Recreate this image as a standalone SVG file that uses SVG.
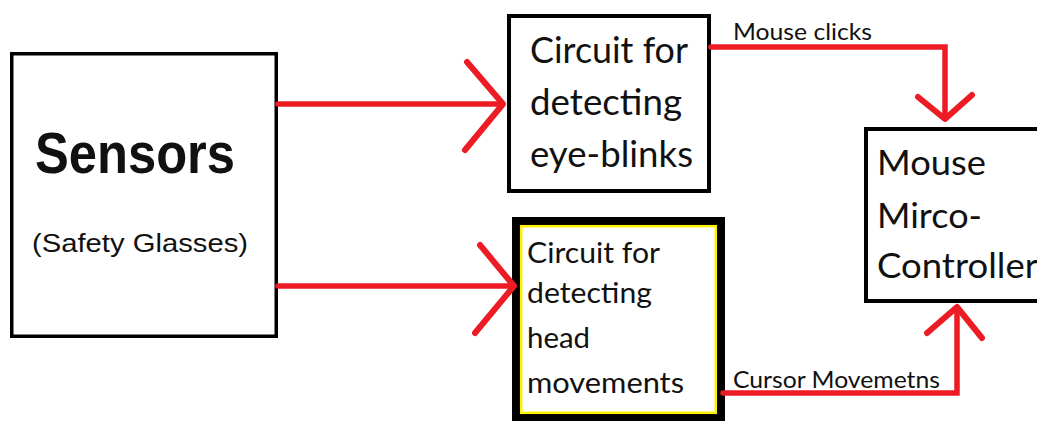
<svg xmlns="http://www.w3.org/2000/svg" width="1037" height="421" viewBox="0 0 1037 421">
<style>
.box{fill:#fff;stroke:#000;}
.wire{fill:none;stroke:#ED1C24;stroke-width:5.5;stroke-linecap:round;stroke-linejoin:miter;}
.head{fill:none;stroke:#ED1C24;stroke-width:6;stroke-linecap:round;stroke-linejoin:round;}
.ar{font-family:"Liberation Sans",Arial,sans-serif;fill:#111;}
.cb{font-family:Lato,"Open Sans",sans-serif;fill:#111;}
</style>
<rect width="1037" height="421" fill="#fff"/>
<g id="sensors">
<rect class="box" x="11.75" y="53.75" width="264.5" height="282.5" stroke-width="3.5"/>
<text class="ar" x="35" y="173" font-size="57" font-weight="bold" textLength="200" lengthAdjust="spacingAndGlyphs">Sensors</text>
<text class="ar" x="32" y="252" font-size="26.5" textLength="216" lengthAdjust="spacingAndGlyphs">(Safety Glasses)</text>
</g>
<g id="eye-blinks">
<rect class="box" x="509" y="16" width="200" height="175" stroke-width="4"/>
<text class="cb" x="530" y="63" font-size="36" textLength="158" lengthAdjust="spacingAndGlyphs">Circuit for</text>
<text class="cb" x="530" y="115" font-size="36" textLength="152" lengthAdjust="spacingAndGlyphs">detecting</text>
<text class="cb" x="530" y="167" font-size="36" textLength="163" lengthAdjust="spacingAndGlyphs">eye-blinks</text>
</g>
<g id="head-movements">
<rect class="box" x="516" y="221" width="205" height="197" stroke-width="8"/>
<rect x="521.2" y="226.2" width="194.6" height="186.6" fill="none" stroke="#FFF200" stroke-width="2.5"/>
<text class="cb" x="527" y="263" font-size="28" textLength="133" lengthAdjust="spacingAndGlyphs">Circuit for</text>
<text class="cb" x="527" y="303" font-size="28" textLength="125" lengthAdjust="spacingAndGlyphs">detecting</text>
<text class="cb" x="527" y="348" font-size="28" textLength="63" lengthAdjust="spacingAndGlyphs">head</text>
<text class="cb" x="527" y="393" font-size="28" textLength="157" lengthAdjust="spacingAndGlyphs">movements</text>
</g>
<g id="micro-controller">
<rect class="box" x="866" y="129" width="190" height="172" stroke-width="4"/>
<text class="cb" x="877" y="175" font-size="35" textLength="109" lengthAdjust="spacingAndGlyphs">Mouse</text>
<text class="cb" x="877" y="228" font-size="35" textLength="105" lengthAdjust="spacingAndGlyphs">Mirco-</text>
<text class="cb" x="877" y="278" font-size="35" textLength="161" lengthAdjust="spacingAndGlyphs">Controller</text>
</g>
<g id="connectors">
<line class="wire" x1="278" y1="104" x2="502" y2="104"/>
<polyline class="head" points="467,62 503,104 465,150"/>
<line class="wire" x1="278" y1="286" x2="513" y2="286"/>
<polyline class="head" points="480,245 514,286 475,333"/>
<polyline class="wire" points="711,47 945,47 945,118"/>
<polyline class="head" points="918,97 945,119 972,95"/>
<polyline class="wire" points="723,393 957,393 957,308"/>
<polyline class="head" points="927,333 957,307 982,338"/>
<text class="cb" x="733" y="40" font-size="23" textLength="139" lengthAdjust="spacingAndGlyphs">Mouse clicks</text>
<text class="cb" x="733" y="388" font-size="23" textLength="207" lengthAdjust="spacingAndGlyphs">Cursor Movemetns</text>
</g>
</svg>
